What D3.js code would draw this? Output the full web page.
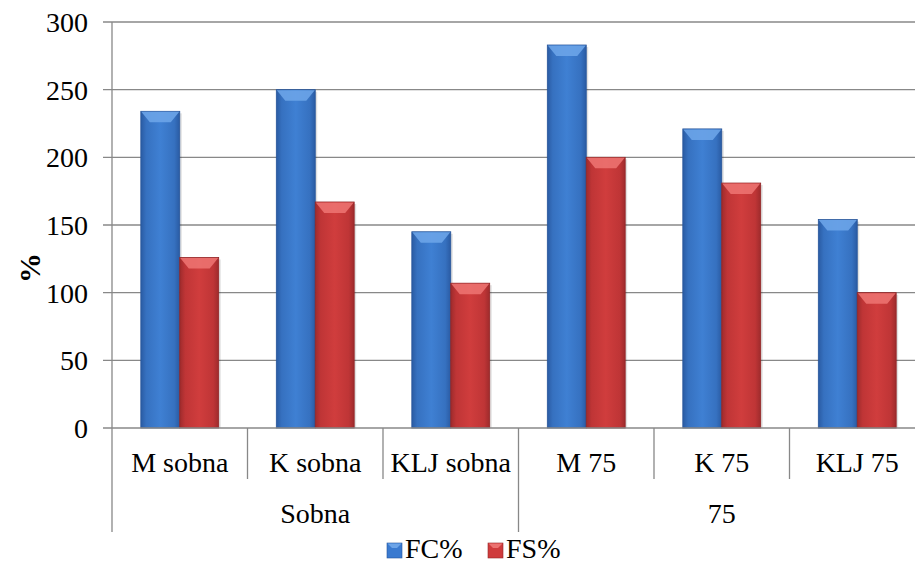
<!DOCTYPE html>
<html><head><meta charset="utf-8">
<script src="https://cdn.jsdelivr.net/npm/d3@7"></script>
<style>body{margin:0;background:#fff}</style>
</head><body>
<svg id="c" width="915" height="563"></svg>
<script>
const categories = ["M sobna","K sobna","KLJ sobna","M 75","K 75","KLJ 75"];
const groups = [{name:"Sobna", from:0, to:3},{name:"75", from:3, to:6}];
const seriesNames = ["FC%","FS%"];
const FC = [234, 250, 145, 283, 221, 154];
const FS = [126, 167, 107, 200, 181, 100];
const yTicks = [0,50,100,150,200,250,300];

const svg = d3.select("#c");
const L = 112, R = 925, T = 22, B = 428;
const lineCol = "#888888";

const x = d3.scaleBand().domain(categories).range([L, R]).padding(0);
const xs = d3.scaleBand().domain(seriesNames).range([0, x.bandwidth()]).paddingInner(0).paddingOuter(0.74);
const y = d3.scaleLinear().domain([0, 300]).range([B, T]);

const defs = svg.append("defs");
function grad(id, edge, mid, light){
  const g = defs.append("linearGradient").attr("id", id).attr("x1","0").attr("x2","1").attr("y1","0").attr("y2","0");
  g.append("stop").attr("offset","0").attr("stop-color", edge);
  g.append("stop").attr("offset","0.14").attr("stop-color", mid);
  g.append("stop").attr("offset","0.5").attr("stop-color", light);
  g.append("stop").attr("offset","0.86").attr("stop-color", mid);
  g.append("stop").attr("offset","1").attr("stop-color", edge);
}
grad("gFC", "#2a5ba3", "#3671c0", "#3f80d3");
grad("gFS", "#9e2b2c", "#bf3536", "#d03d3d");
const pal = {
  "FC%": {fill:"url(#gFC)", top:"#6ca4e8", stroke:"#27559a", leg:"#3a7ad0"},
  "FS%": {fill:"url(#gFS)", top:"#ec7270", stroke:"#932526", leg:"#cf3b3c"}
};

// gridlines
yTicks.filter(d=>d>0).forEach(d=>{
  svg.append("line").attr("x1", L-9).attr("x2", R).attr("y1", y(d)).attr("y2", y(d))
    .attr("stroke", lineCol).attr("stroke-width", 1.3);
});
svg.append("line").attr("x1", L).attr("x2", L).attr("y1", T).attr("y2", B)
  .attr("stroke", lineCol).attr("stroke-width", 1.3);

// bars
categories.forEach((c,i)=>{
  [["FC%",FC[i]],["FS%",FS[i]]].forEach(([s,v])=>{
    const x0 = x(c) + xs(s), w = xs.bandwidth();
    const y0 = y(v), h = B - y0;
    svg.append("rect").attr("x", x0+2).attr("y", y0+2).attr("width", w).attr("height", h-2)
      .attr("fill","rgba(0,0,0,0.12)");
    svg.append("rect").attr("x", x0).attr("y", y0).attr("width", w).attr("height", h)
      .attr("fill", pal[s].fill).attr("stroke", pal[s].stroke).attr("stroke-width", 0.8);
    const bv = Math.min(11, h/2);
    svg.append("path").attr("d", `M${x0+0.5},${y0+0.5}L${x0+w-0.5},${y0+0.5}L${x0+w-9},${y0+bv}L${x0+9},${y0+bv}Z`)
      .attr("fill", pal[s].top).attr("opacity",0.9);
  });
});

// category axis
svg.append("line").attr("x1", L-9).attr("x2", R).attr("y1", B).attr("y2", B)
  .attr("stroke", lineCol).attr("stroke-width", 1.3);
const groupBounds = new Set(groups.flatMap(g=>[g.from, g.to]));
d3.range(categories.length+1).forEach(i=>{
  const bx = L + i*x.step();
  svg.append("line").attr("x1", bx).attr("x2", bx).attr("y1", B)
    .attr("y2", groupBounds.has(i) ? 532 : 479)
    .attr("stroke", lineCol).attr("stroke-width", 1.3);
});

// legend swatches
const legX = [387, 488];
seriesNames.forEach((s,i)=>{
  svg.append("rect").attr("x", legX[i]).attr("y", 543).attr("width",15).attr("height",15)
    .attr("fill", pal[s].leg).attr("stroke", pal[s].stroke).attr("stroke-width",0.6);
  svg.append("path").attr("d",`M${legX[i]+0.5},543.5L${legX[i]+14.5},543.5L${legX[i]+10},548L${legX[i]+5},548Z`).attr("fill", pal[s].top);
});

// all texts as direct children
const texts = [];
yTicks.forEach(d=>texts.push({x:L-24, y:y(d)+10, a:"end", t:String(d)}));
categories.forEach(c=>texts.push({x:x(c)+x.bandwidth()/2, y:472, a:"middle", t:c}));
groups.forEach(g=>texts.push({x:L + (g.from+g.to)/2*x.step(), y:523, a:"middle", t:g.name}));
seriesNames.forEach((s,i)=>texts.push({x:legX[i]+18, y:558, a:"start", t:s}));
texts.forEach(o=>{
  svg.append("text").attr("x",o.x).attr("y",o.y).attr("text-anchor",o.a)
    .style("font-family",'"Liberation Serif"').attr("font-size",28).text(o.t);
});
svg.append("text").attr("transform","translate(40,268) rotate(-90)")
  .attr("text-anchor","middle").attr("font-size", 30)
  .style("font-family",'"Liberation Serif"')
  .attr("font-weight","bold").text("%");
</script>
</body></html>
